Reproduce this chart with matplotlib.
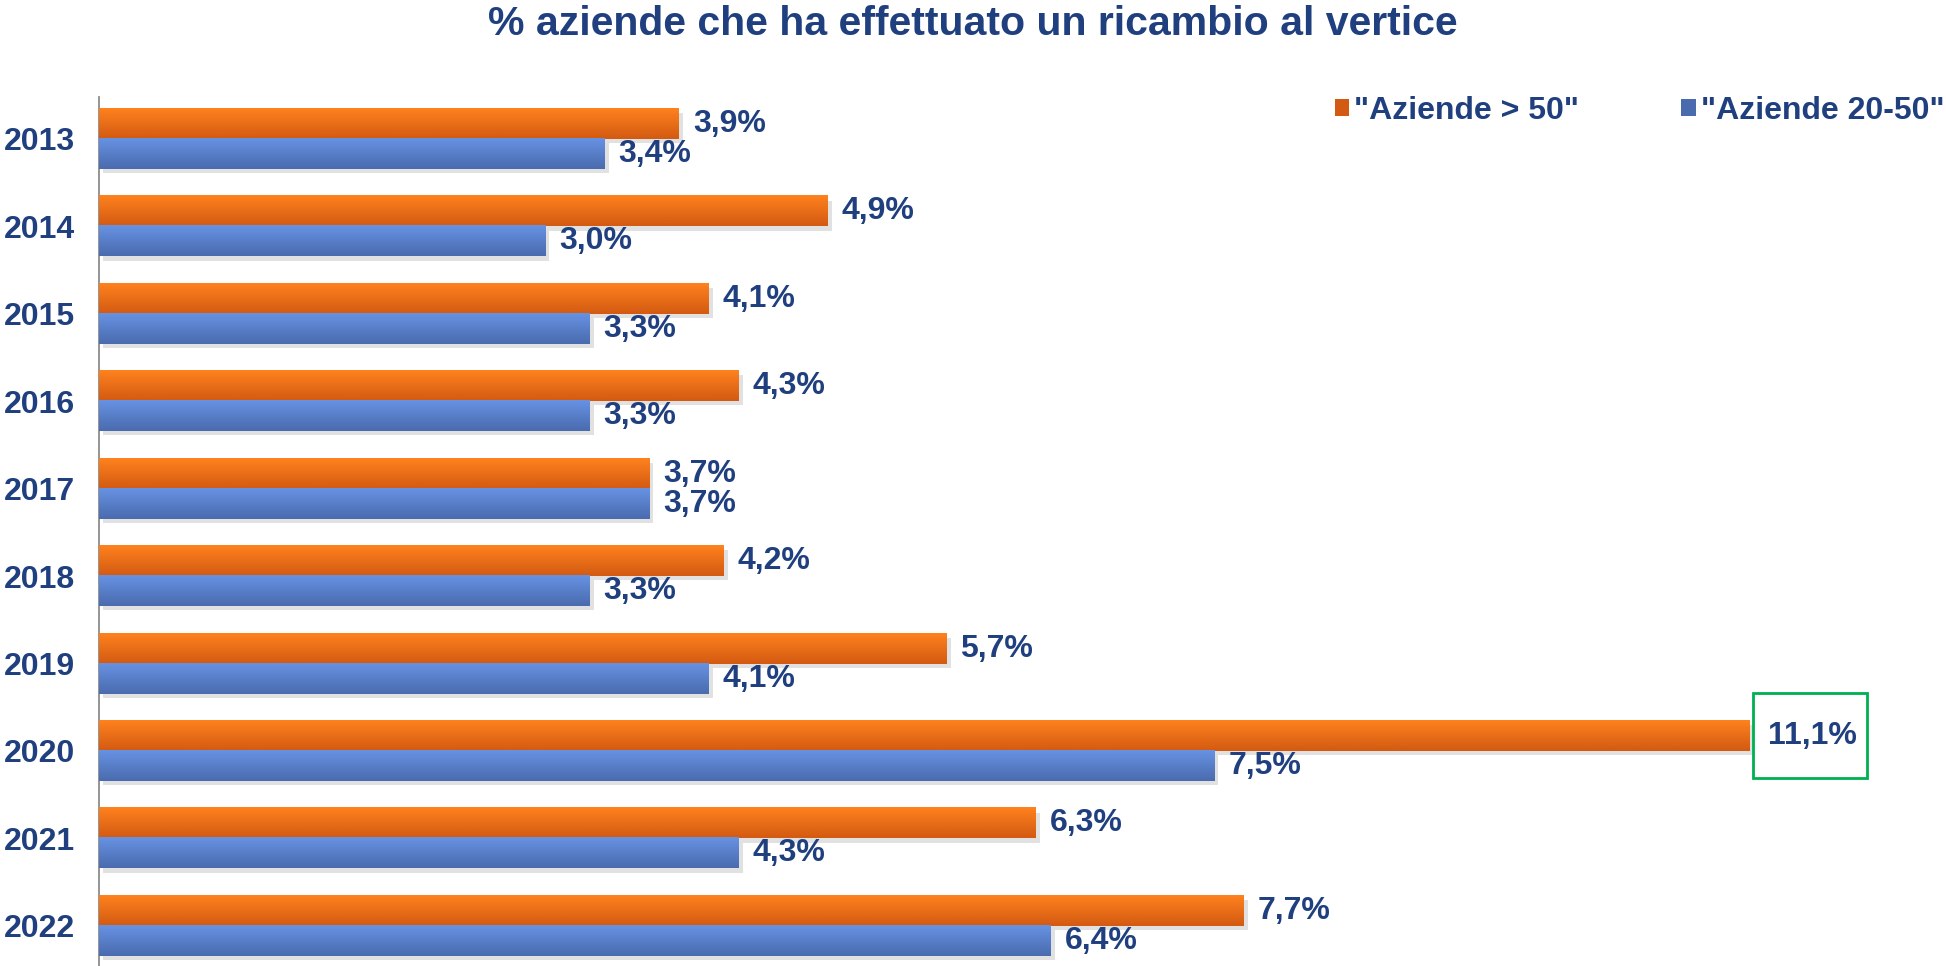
import matplotlib
matplotlib.use("Agg")
import matplotlib.pyplot as plt
import matplotlib.patheffects as pe
from matplotlib.patches import Patch, Rectangle
import numpy as np

plt.rcParams['font.family'] = ['Liberation Sans', 'DejaVu Sans']

years = ["2013", "2014", "2015", "2016", "2017", "2018", "2019", "2020", "2021", "2022"]
over50 = [3.9, 4.9, 4.1, 4.3, 3.7, 4.2, 5.7, 11.1, 6.3, 7.7]
from20to50 = [3.4, 3.0, 3.3, 3.3, 3.7, 3.3, 4.1, 7.5, 4.3, 6.4]
series_names = ['"Aziende > 50"', '"Aziende 20-50"']
title = "% aziende che ha effettuato un ricambio al vertice"
highlight_year = "2020"

TXT = "#1F3F7E"
ORANGE_TOP, ORANGE_BOT = "#FF821E", "#D35A12"
BLUE_TOP, BLUE_BOT = "#6792E3", "#4A6BAE"

W, H = 1946, 966
fig = plt.figure(figsize=(W / 100, H / 100), dpi=100)
ax = fig.add_axes([99 / W, 0, 1 - 99 / W, (966 - 97) / H])

y = np.arange(len(years))
h = 30 / 87.4
shadow = [pe.SimplePatchShadow(offset=(3, -3), shadow_rgbFace="#AAAAAA", alpha=0.35), pe.Normal()]
b1 = ax.barh(y - h / 2, over50, height=h, color=ORANGE_BOT, zorder=2)
b2 = ax.barh(y + h / 2, from20to50, height=h, color=BLUE_BOT, zorder=2)


def grad(c1, c2, n=64):
    a = np.array(matplotlib.colors.to_rgb(c1))
    b = np.array(matplotlib.colors.to_rgb(c2))
    t = np.linspace(0, 1, n)[:, None]
    return (a * (1 - t) + b * t)[:, None, :]


for bars, (ct, cb) in ((b1, (ORANGE_TOP, ORANGE_BOT)), (b2, (BLUE_TOP, BLUE_BOT))):
    g = grad(ct, cb)
    for p in bars:
        p.set_path_effects(shadow)
        x0, y0, w, hh = p.get_x(), p.get_y(), p.get_width(), p.get_height()
        ax.imshow(g, extent=(x0, x0 + w, y0 + hh, y0), origin="upper",
                  aspect="auto", zorder=3, interpolation="bilinear")

fs = 23
for i, (v1, v2) in enumerate(zip(over50, from20to50)):
    lab1 = f"{v1:.1f}".replace(".", ",") + "%"
    lab2 = f"{v2:.1f}".replace(".", ",") + "%"
    if years[i] == highlight_year:
        ax.annotate(lab1, (v1, i - h / 2), xytext=(13, 0), textcoords="offset points",
                    ha="left", va="center", fontsize=fs, fontweight="bold", color=TXT, zorder=5)
        ax.add_patch(Rectangle((v1 + 0.02, i - h / 2 - 0.49), 0.77, 0.97, fill=False,
                               edgecolor="#00B050", linewidth=2, zorder=5, clip_on=False))
    else:
        ax.annotate(lab1, (v1, i - h / 2), xytext=(10, 0), textcoords="offset points",
                    ha="left", va="center", fontsize=fs, fontweight="bold", color=TXT, zorder=5)
    ax.annotate(lab2, (v2, i + h / 2), xytext=(10, 0), textcoords="offset points",
                ha="left", va="center", fontsize=fs, fontweight="bold", color=TXT, zorder=5)

ax.set_xlim(0, (W - 99) / 148.7)
ax.set_ylim(9.46, -0.48)
ax.set_yticks(y)
ax.set_yticklabels(years, fontsize=fs, fontweight="bold", color=TXT)
ax.tick_params(axis="y", length=0, pad=17)
ax.set_xticks([])
for s in ("top", "right", "bottom"):
    ax.spines[s].set_visible(False)
ax.spines["left"].set_color("#8C8C8C")
ax.spines["left"].set_linewidth(1.3)

handles = [Patch(facecolor=ORANGE_BOT, edgecolor="none"), Patch(facecolor=BLUE_BOT, edgecolor="none")]
leg = ax.legend(handles, series_names, loc="center right", bbox_to_anchor=(0.999, 1 - 14 / 869),
                ncol=2, frameon=False, fontsize=fs, handlelength=0.45, handleheight=0.45,
                handletextpad=0.15, columnspacing=3.2, borderaxespad=0, borderpad=0)
for t in leg.get_texts():
    t.set_color(TXT)
    t.set_fontweight("bold")

fig.text(0.5, 1 - 24 / H, title, ha="center", va="center", fontsize=29.5,
         fontweight="bold", color=TXT)

fig.savefig("out.png", dpi=100)
